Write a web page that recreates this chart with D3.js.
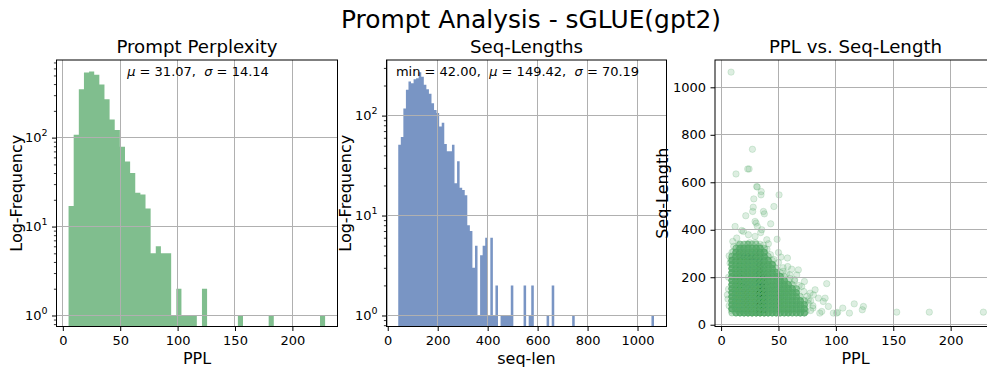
<!DOCTYPE html>
<html><head><meta charset="utf-8">
<script src="https://cdn.jsdelivr.net/npm/d3@7"></script>
<style>
body{margin:0;background:#fff;}
svg{display:block;font-family:"DejaVu Sans",sans-serif;}
</style></head><body>
<svg id="chart" width="987" height="373"></svg>
<script>
// ---------------- data ----------------
const pplRange = [5.0, 228.5];
const pplCounts = [17,108,350,540,555,510,395,270,160,122,
  79,54,40,24,23,16,5,6,5,5,
  1,2,1,1,1,0,2,0,0,0,
  0,0,0,1,0,0,0,0,0,1,
  0,0,0,0,0,0,0,0,0,1];
const seqRange = [42, 1066];
const seqCounts = [51,61,118,181,219,211,231,236,271,245,
  203,183,165,133,114,106,78,85,52,44,
  44,51,21,35,19,18,16,8,7,3,
  5,1,4,5,6,1,6,1,2,0,
  1,1,1,1,2,0,0,0,0,2,
  0,1,2,0,0,0,0,0,1,0,
  2,0,0,0,0,0,0,0,1,0,
  0,0,0,0,0,0,0,0,0,0,
  0,0,0,0,0,0,0,0,0,0,
  0,0,0,0,0,0,0,0,0,1];
const pplMean = "31.07", pplStd = "14.14";
const seqMin = "42.00", seqMean = "149.42", seqStd = "70.19";
const pplTicks = [0,50,100,150,200];
const seqTicks = [0,200,400,600,800,1000];
const logTicks = [1,10,100];
// scatter: dense core as (PPL column, seq row, number of prompts)
const scatterPPLCols = [9.5,13,16.5,20,23.5,27,30.5,34,37.5,41,44.5,48,51.5,55,58.5,62,65.5,69,72.5];
const scatterSeqRows = [50,67,84,101,118,135,152,169,186,203,220,237,254,271,288,305,322,339];
const scatterCounts = [
  [2,6,8,9,10,10,10,10,9,9,8,8,7,7,7,6,6,6,6],
  [7,9,12,17,20,21,20,18,15,12,10,9,8,7,7,7,7,6,6],
  [7,10,24,36,40,40,38,33,25,20,15,13,10,8,7,7,7,6,5],
  [7,12,28,44,46,45,42,35,24,19,15,13,10,8,7,7,6,6,2],
  [7,14,32,50,52,50,46,38,27,21,16,13,10,8,7,6,6,2,0],
  [7,16,36,55,57,54,50,41,29,22,17,13,10,8,7,6,6,0,0],
  [7,13,29,44,46,43,39,32,22,16,12,9,8,7,7,6,2,0,0],
  [7,11,25,38,39,36,33,27,18,13,9,8,7,7,6,2,0,0,0],
  [7,9,19,29,30,27,25,19,13,9,8,7,7,6,1,0,0,0,0],
  [7,8,14,21,22,20,18,14,10,8,7,7,6,1,0,0,0,0,0],
  [7,8,13,19,20,18,16,12,9,7,7,6,1,0,0,0,0,0,0],
  [7,7,9,12,12,11,10,9,7,7,6,2,0,0,0,0,0,0,0],
  [6,7,9,12,12,11,10,8,7,7,6,0,0,0,0,0,0,0,0],
  [6,7,8,9,9,9,8,7,7,6,1,0,0,0,0,0,0,0,0],
  [3,7,8,8,8,8,7,7,7,2,0,0,0,0,0,0,0,0,0],
  [1,6,7,7,7,7,7,7,6,0,0,0,0,0,0,0,0,0,0],
  [0,3,6,6,6,6,6,5,1,0,0,0,0,0,0,0,0,0,0],
  [0,0,2,2,3,2,2,1,0,0,0,0,0,0,0,0,0,0,0]];
// scatter: individual prompts outside the dense core
const outlierPPL = [8.7,13,27.3,23.2,24.4,31,31.5,35,34.8,50.5,28.5,28,27.5,36.9,37.7,46,21.5,12.2,19.4,18,
  29.6,30.5,31.6,35.4,34.5,43.2,39.8,48.8,29.6,23.8,10.2,13.6,41.2,52.2,57.8,50,61.5,67.3,65.9,60,
  72.6,92,70.2,77.5,80.4,81.9,84.8,90.6,89,87.7,86,93.5,97.8,100.7,106,111.8,116,124,123,74,
  80,68.8,5.5,6,7.8,8.4,10.7,15,19.4,153,181.4,228.5,16,25,33,38,45,55,76,78,101.6,58,64,54,
  76,72,68,64,60,57,54,50,46,43,40,37,30,22,11,7,6.5,6.5,7,9,78,80,75,66];
const outlierSeq = [1064,635,739,656,656,582,580,561,547,547,530,495,477,477,467,498,459,414,393,397,
  435,428,414,400,388,425,358,360,372,379,351,365,341,285,281,304,234,231,210,210,
  182,173,161,133,126,147,112,112,98,56,49,77,49,49,70,49,88,77,63,56,
  70,49,126,108,259,273,308,334,315,53,53,53,340,345,330,320,250,175,90,100,52,245,190,225,
  105,140,165,185,195,215,240,262,275,295,318,335,345,340,330,290,200,150,80,60,60,80,120,150];

// ---------------- layout / style ----------------
const FONT = '"DejaVu Sans", sans-serif';
const Y0 = 60, Y1 = 326.5;
const GREEN = '#55a868', BLUE = '#4c72b0';
const svg = d3.select('#chart');

function logMinor(domain){
  const out=[]; for(let e=-1;e<=3;e++) for(let m=2;m<=9;m++){const v=m*Math.pow(10,e); if(v>=domain[0]&&v<=domain[1]) out.push(v);} return out;
}
function snap(v){ return Math.round(v-0.5)+0.5; }

function panel(id, p, x, y, xTicks, yTicks, isLog, drawMarks){
  svg.append('clipPath').attr('id','clip'+id).append('rect')
    .attr('x',p.l).attr('y',Y0).attr('width',p.r-p.l).attr('height',Y1-Y0);
  const marks = svg.append('g').attr('clip-path',`url(#clip${id})`);
  drawMarks(marks);
  const grid = svg.append('g').attr('stroke','#b0b0b0').attr('stroke-width',1).attr('clip-path',`url(#clip${id})`);
  xTicks.forEach(t=>grid.append('line').attr('x1',snap(x(t))).attr('x2',snap(x(t))).attr('y1',Y0).attr('y2',Y1));
  yTicks.forEach(t=>grid.append('line').attr('y1',snap(y(t))).attr('y2',snap(y(t))).attr('x1',p.l).attr('x2',p.r));
  svg.append('rect').attr('x',p.l).attr('y',Y0).attr('width',p.r-p.l).attr('height',Y1-Y0)
    .attr('fill','none').attr('stroke','#000').attr('stroke-width',1);
  const xa = svg.append('g').attr('transform',`translate(0,${Y1})`)
    .call(d3.axisBottom(x).tickValues(xTicks).tickSize(4.5).tickPadding(5).tickSizeOuter(0).tickFormat(d3.format('d')));
  const ya = svg.append('g').attr('transform',`translate(${p.l},0)`)
    .call(d3.axisLeft(y).tickValues(yTicks).tickSize(4.5).tickPadding(4.5).tickSizeOuter(0)
      .tickFormat(isLog ? ()=>'' : d3.format('d')));
  [xa,ya].forEach(a=>{
    a.select('.domain').remove();
    a.selectAll('line').attr('stroke','#000').attr('stroke-width',1);
    a.selectAll('text').attr('font-size',13).attr('font-family',FONT).attr('fill','#000');
  });
  if(isLog){
    ya.selectAll('.tick text').each(function(d){
      const t=d3.select(this);
      t.append('tspan').text('10');
      t.append('tspan').attr('font-size',9.5).attr('dy',-6).text(Math.round(Math.log10(d)));
    });
    const mn = svg.append('g').attr('transform',`translate(${p.l},0)`)
      .call(d3.axisLeft(y).tickValues(logMinor(y.domain())).tickSize(2.6).tickFormat(()=>'').tickSizeOuter(0));
    mn.select('.domain').remove();
    mn.selectAll('line').attr('stroke','#000').attr('stroke-width',0.8);
  }
}

function histPath(g, x, y, range, counts, color){
  const n = counts.length, w=(range[1]-range[0])/n;
  const path = d3.path();
  counts.forEach((c,i)=>{
    if(c<=0) return;
    const x0=x(range[0]+i*w), x1=x(range[0]+(i+1)*w), yt=y(c);
    path.rect(x0, yt, x1-x0, Y1+5-yt);
  });
  g.append('path').attr('d',path.toString()).attr('fill',color).attr('fill-opacity',0.75);
}

const P1={l:56.5,r:337.5}, P2={l:386.5,r:666.5}, P3={l:715,r:996};

// Panel 1 : PPL histogram
const x1 = d3.scaleLinear().domain([-5.5,239.3]).range([P1.l,P1.r]);
const y1 = d3.scaleLog().domain([0.752,746]).range([Y1,Y0]);
panel(1,P1,x1,y1,pplTicks,logTicks,true,g=>histPath(g,x1,y1,pplRange,pplCounts,GREEN));

// Panel 2 : seq-length histogram
const x2 = d3.scaleLinear().domain([-5,1116]).range([P2.l,P2.r]);
const y2 = d3.scaleLog().domain([0.776,360]).range([Y1,Y0]);
panel(2,P2,x2,y2,seqTicks,logTicks,true,g=>histPath(g,x2,y2,seqRange,seqCounts,BLUE));

// Panel 3 : scatter
const x3 = d3.scaleLinear().domain([-5.3,239.5]).range([P3.l,P3.r]);
const y3 = d3.scaleLinear().domain([-7.5,1115]).range([Y1,Y0]);
const pts=[];
scatterSeqRows.forEach((s,i)=>scatterPPLCols.forEach((p,j)=>{for(let k=0;k<scatterCounts[i][j];k++) pts.push([p,s]);}));
outlierPPL.forEach((p,i)=>pts.push([p,outlierSeq[i]]));
panel(3,P3,x3,y3,pplTicks,seqTicks,false,g=>{
  g.selectAll('circle').data(pts).join('circle')
    .attr('cx',d=>x3(d[0])).attr('cy',d=>y3(d[1])).attr('r',3.2)
    .attr('fill',GREEN).attr('fill-opacity',0.2)
    .attr('stroke',GREEN).attr('stroke-opacity',0.2).attr('stroke-width',1);
});

// ---------------- texts ----------------
function txt(x,y,s,size,anchor){ return svg.append('text').attr('x',x).attr('y',y).attr('font-size',size)
  .attr('font-family',FONT).attr('text-anchor',anchor||'middle').attr('fill','#000').text(s); }
txt(531,28,'Prompt Analysis - sGLUE(gpt2)',24.9);
txt((P1.l+P1.r)/2,53,'Prompt Perplexity',18.2);
txt((P2.l+P2.r)/2,53,'Seq-Lengths',18.2);
txt((P3.l+P3.r)/2,53,'PPL vs. Seq-Length',18.2);
txt((P1.l+P1.r)/2,363.5,'PPL',16);
txt((P2.l+P2.r)/2,363.5,'seq-len',16);
txt((P3.l+P3.r)/2,363.5,'PPL',16);
function ylab(x,s){ svg.append('text').attr('transform',`translate(${x},${(Y0+Y1)/2}) rotate(-90)`)
  .attr('font-size',16).attr('font-family',FONT).attr('text-anchor','middle').attr('fill','#000').text(s); }
ylab(21.5,'Log-Frequency'); ylab(350.5,'Log-Frequency'); ylab(668,'Seq-Length');
function annot(x, parts){
  const t=svg.append('text').attr('x',x).attr('y',75.5).attr('font-size',13).attr('font-family',FONT)
    .attr('text-anchor','middle').attr('fill','#000').style('white-space','pre');
  parts.forEach(([s,it])=>t.append('tspan').attr('font-style',it?'italic':null).text(s));
}
annot(198,[['μ',1],[' = '+pplMean+',  ',0],['σ',1],[' = '+pplStd,0]]);
annot(517.5,[['min = '+seqMin+',  ',0],['μ',1],[' = '+seqMean+',  ',0],['σ',1],[' = '+seqStd,0]]);
</script>
</body></html>
